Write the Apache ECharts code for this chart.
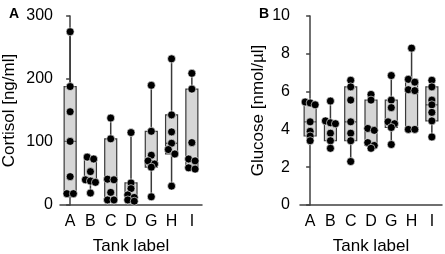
<!DOCTYPE html>
<html>
<head>
<meta charset="utf-8">
<script src="https://cdn.jsdelivr.net/npm/echarts@6/dist/echarts.min.js"></script>
<style>
html, body { margin: 0; padding: 0; background: #fff; }
#chart { width: 445px; height: 254px; }
</style>
</head>
<body>
<div id="chart"></div>
<script>
// tank labels on the x axis
const tanks = ["A", "B", "C", "D", "G", "H", "I"];
// individual fish, one list per tank
const cortisol = [
    [275, 188, 148, 101, 45, 18, 18],
    [76, 73, 53, 40, 38, 36, 19],
    [138, 105, 41, 40, 20, 8, 8],
    [115, 35, 26, 16, 12, 8, 6],
    [190, 117, 79, 70, 65, 60, 13],
    [232, 143, 116, 98, 88, 81, 30],
    [209, 184, 99, 73, 70, 59, 57]
];
const glucose = [
    [5.45, 5.4, 5.3, 4.4, 3.9, 3.65, 3.4],
    [5.5, 4.45, 4.35, 4.3, 3.8, 3.4, 3.0],
    [6.6, 6.25, 5.55, 4.4, 3.8, 3.4, 2.3],
    [5.85, 5.55, 4.05, 3.95, 3.3, 3.15, 3.0],
    [6.85, 5.55, 5.15, 4.4, 4.3, 4.1, 3.2],
    [8.3, 6.65, 6.5, 6.1, 6.05, 4.0, 4.0],
    [6.6, 6.25, 5.55, 5.3, 4.9, 4.45, 3.6]
];

const FONT = "Liberation Sans, Arial, sans-serif";
const AXIS_COLOR = "#404040";
const PLOT_W = 142, PLOT_H = 189;

// percentile, (n+1) method
function pct(sorted, p) {
    const n = sorted.length;
    let pos = p * (n + 1);
    if (pos < 1) pos = 1;
    if (pos > n) pos = n;
    const lo = Math.floor(pos), frac = pos - lo;
    if (lo >= n) return sorted[n - 1];
    return sorted[lo - 1] + frac * (sorted[lo] - sorted[lo - 1]);
}

function boxStats(groups) {
    return groups.map((vals, i) => {
        const s = vals.slice().sort((a, b) => a - b);
        return [i, s[0], pct(s, 0.25), pct(s, 0.5), pct(s, 0.75), s[s.length - 1]];
    });
}

// simple row-wise spread of points that would overlap
function swarm(groups, yMax) {
    const pts = [];
    const pxPerUnit = PLOT_H / yMax;
    const catW = PLOT_W / groups.length;
    groups.forEach((vals, i) => {
        const sorted = vals.slice().sort((a, b) => b - a);
        let row = [];
        const flush = () => {
            const step = row.length > 2 ? 5 : 6.5;
            row.forEach((v, k) => {
                const off = (k - (row.length - 1) / 2) * step;
                pts.push([i + off / catW, v]);
            });
            row = [];
        };
        sorted.forEach(v => {
            if (row.length && (row[0] - v) * pxPerUnit > 4.5) flush();
            row.push(v);
        });
        flush();
    });
    return pts;
}

function boxSeries(stats, xi, yi) {
    return {
        type: "custom",
        xAxisIndex: xi,
        yAxisIndex: yi,
        z: 2,
        silent: true,
        data: stats,
        encode: { x: 0, y: [1, 2, 3, 4, 5] },
        renderItem: function (params, api) {
            const x = api.value(0);
            const pt = k => api.coord([x, api.value(k)]);
            const cx = pt(1)[0];
            const yMin = pt(1)[1], yQ1 = pt(2)[1], yMed = pt(3)[1], yQ3 = pt(4)[1], yMax = pt(5)[1];
            const hw = 6, cw = 3;
            const ln = { stroke: "#3a3a3a", lineWidth: 1.5 };
            return {
                type: "group",
                children: [
                    { type: "line", shape: { x1: cx, y1: yMax, x2: cx, y2: yQ3 }, style: ln },
                    { type: "line", shape: { x1: cx, y1: yQ1, x2: cx, y2: yMin }, style: ln },
                    { type: "line", shape: { x1: cx - cw, y1: yMax, x2: cx + cw, y2: yMax }, style: ln },
                    { type: "line", shape: { x1: cx - cw, y1: yMin, x2: cx + cw, y2: yMin }, style: ln },
                    {
                        type: "rect",
                        shape: { x: cx - hw, y: yQ3, width: hw * 2, height: yQ1 - yQ3 },
                        style: { fill: "#d6d6d6", stroke: "#3a3a3a", lineWidth: 1.2 }
                    },
                    { type: "line", shape: { x1: cx - hw, y1: yMed, x2: cx + hw, y2: yMed }, style: { stroke: "#3a3a3a", lineWidth: 1.2 } }
                ]
            };
        }
    };
}

function dotSeries(pts, xi, yi) {
    return {
        type: "scatter",
        xAxisIndex: xi,
        yAxisIndex: yi,
        z: 3,
        symbol: "circle",
        symbolSize: 8,
        itemStyle: { color: "#000", borderColor: "#fff", borderWidth: 0.6, opacity: 1 },
        data: pts
    };
}

function catAxis(gi) {
    return {
        type: "category",
        gridIndex: gi,
        data: tanks,
        boundaryGap: true,
        axisLine: { lineStyle: { color: AXIS_COLOR, width: 1.5 } },
        axisTick: { alignWithLabel: true, length: 4, lineStyle: { color: AXIS_COLOR, width: 1.5 } },
        axisLabel: { fontSize: 16, color: "#000", fontFamily: FONT, margin: 9 },
        name: "Tank label",
        nameLocation: "middle",
        nameGap: 33,
        nameTextStyle: { fontSize: 17, color: "#000", fontFamily: FONT }
    };
}

function posAxis(gi) {
    return { type: "value", gridIndex: gi, min: -0.5, max: tanks.length - 0.5, show: false };
}

function valAxis(gi, max, interval, name, gap, margin) {
    return {
        type: "value",
        gridIndex: gi,
        min: 0,
        max: max,
        interval: interval,
        splitLine: { show: false },
        axisLine: { show: true, lineStyle: { color: AXIS_COLOR, width: 1.5 } },
        axisTick: { show: true, length: 4, lineStyle: { color: AXIS_COLOR, width: 1.5 } },
        axisLabel: { fontSize: 16, color: "#000", fontFamily: FONT, margin: margin },
        name: name,
        nameLocation: "middle",
        nameRotate: 90,
        nameGap: gap,
        nameTextStyle: { fontSize: 17, color: "#000", fontFamily: FONT }
    };
}

const chart = echarts.init(document.getElementById("chart"), null, { renderer: "canvas" });
chart.setOption({
    animation: false,
    backgroundColor: "#fff",
    title: [
        { text: "A", left: 4, top: 2, textStyle: { fontSize: 14, fontWeight: "bold", color: "#000", fontFamily: FONT } },
        { text: "B", left: 254, top: 2, textStyle: { fontSize: 14, fontWeight: "bold", color: "#000", fontFamily: FONT } }
    ],
    grid: [
        { left: 60, top: 16, width: PLOT_W, height: PLOT_H, containLabel: false, outerBoundsMode: "none" },
        { left: 300, top: 16, width: PLOT_W, height: PLOT_H, containLabel: false, outerBoundsMode: "none" }
    ],
    xAxis: [catAxis(0), catAxis(1), posAxis(0), posAxis(1)],
    yAxis: [
        valAxis(0, 300, 100, "Cortisol [ng/ml]", 42, 7),
        valAxis(1, 10, 2, "Glucose [nmol/µl]", 33, 10)
    ],
    series: [
        boxSeries(boxStats(cortisol), 2, 0),
        dotSeries(swarm(cortisol, 300), 2, 0),
        boxSeries(boxStats(glucose), 3, 1),
        dotSeries(swarm(glucose, 10), 3, 1)
    ]
});
</script>
</body>
</html>
